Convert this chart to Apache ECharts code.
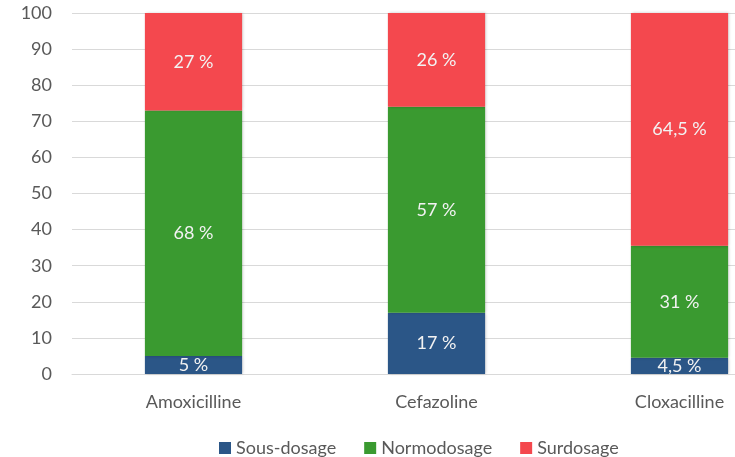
<!DOCTYPE html>
<html>
<head>
<meta charset="utf-8">
<script src="https://cdn.jsdelivr.net/npm/echarts@6/dist/echarts.min.js"></script>
<style>
html, body { margin: 0; padding: 0; background: #fff; }
#main { width: 735px; height: 457px; }
</style>
</head>
<body>
<div id="main"></div>
<script>
var categories = ["Amoxicilline", "Cefazoline", "Cloxacilline"];
var sousDosage = [5, 17, 4.5];
var normoDosage = [68, 57, 31];
var surDosage = [27, 26, 64.5];
var yTicks = [0, 10, 20, 30, 40, 50, 60, 70, 80, 90, 100];

var seriesNames = ["Sous-dosage", "Normodosage", "Surdosage"];
var seriesColors = ["#2b5687", "#3a9a30", "#f4484e"];
var seriesData = [sousDosage, normoDosage, surDosage];

function pctLabel(p) {
	return String(p.value).replace(".", ",") + " %";
}

var series = [];
for (var i = 0; i < seriesNames.length; i++) {
	series.push({
		name : seriesNames[i],
		type : "bar",
		stack : "total",
		barWidth : "40%",
		data : seriesData[i],
		itemStyle : {
			color : seriesColors[i],
			shadowColor : "rgba(0,0,0,0.25)",
			shadowBlur : 3,
			shadowOffsetX : 1
		},
		label : {
			show : true,
			position : "inside",
			color : "#f2f2f2",
			fontFamily : "Lato",
			fontSize : 18,
			formatter : pctLabel
		}
	});
}

var myChart = echarts.init(document.getElementById("main"));
myChart.setOption({
	animation : false,
	grid : {
		left : 72,
		width : 729,
		top : 13,
		height : 361,
		outerBoundsMode : "none",
		containLabel : false
	},
	legend : {
		data : seriesNames,
		left : 214,
		top : 434,
		itemWidth : 12,
		itemHeight : 12,
		itemGap : 28,
		icon : "rect",
		textStyle : {
			color : "#595959",
			fontFamily : "Lato",
			fontSize : 18
		}
	},
	xAxis : {
		type : "category",
		data : categories,
		axisLine : { lineStyle : { color : "#d9d9d9" } },
		axisTick : { show : false },
		axisLabel : {
			color : "#595959",
			fontFamily : "Lato",
			fontSize : 18,
			margin : 19
		}
	},
	yAxis : {
		type : "value",
		min : yTicks[0],
		max : yTicks[yTicks.length - 1],
		interval : 10,
		axisLine : { show : false },
		axisTick : { show : false },
		splitLine : { lineStyle : { color : "#d9d9d9" } },
		axisLabel : {
			color : "#595959",
			fontFamily : "Lato",
			fontSize : 18,
			margin : 20
		}
	},
	series : series
});
</script>
</body>
</html>
